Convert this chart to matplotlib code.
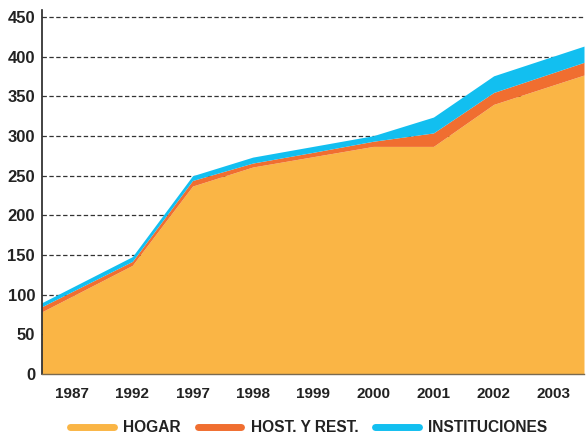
import numpy as np
import matplotlib
matplotlib.use("Agg")
import matplotlib.pyplot as plt
from matplotlib.lines import Line2D

years = ["1987", "1992", "1997", "1998", "1999", "2000", "2001", "2002", "2003"]
hogar = [78.5, 137, 237, 261, 274, 287, 287, 340, 377]
host_rest = [6.5, 5, 7, 5, 5.5, 6.5, 17, 15, 16]
instituciones = [5, 6, 6, 7.5, 7.5, 7, 20, 21, 20.5]
series_names = ["HOGAR", "HOST. Y REST.", "INSTITUCIONES"]
colors = ["#FAB545", "#F06E30", "#12BFF0"]
yticks = [0, 50, 100, 150, 200, 250, 300, 350, 400, 450]

plt.rcParams['font.family'] = ['Liberation Sans', 'DejaVu Sans']

fig = plt.figure(figsize=(5.86, 4.37), dpi=100)
ax = fig.add_axes([42/586, 1-374/437, (584-42)/586, (374-10)/437])

n = len(years)
x = np.arange(n) + 0.5
x[0] = 0
x[-1] = n

h = np.array(hogar)
o = h + np.array(host_rest)
t = o + np.array(instituciones)

ax.fill_between(x, 0, h, color=colors[0], lw=0, zorder=3)
ax.fill_between(x, h, o, color=colors[1], lw=0, zorder=3)
ax.fill_between(x, o, t, color=colors[2], lw=0, zorder=3)

ax.set_xlim(0, n)
ax.set_ylim(0, 459)
for yv in yticks[1:]:
    ax.axhline(yv, color="#333333", lw=0.9, ls=(0, (3.5, 2)), zorder=1)

ax.set_yticks(yticks)
ax.set_yticklabels([str(v) for v in yticks], fontsize=12, fontweight='bold', color="#222222")
ax.set_xticks(np.arange(n) + 0.5)
ax.set_xticklabels(years, fontsize=11, fontweight='bold', color="#222222")
ax.tick_params(axis='both', length=0)
ax.tick_params(axis='y', pad=5)
ax.tick_params(axis='x', pad=9)

for s in ["top", "right"]:
    ax.spines[s].set_visible(False)
ax.spines["left"].set_color("#222222")
ax.spines["left"].set_linewidth(1.2)
ax.spines["left"].set_zorder(5)
ax.spines["bottom"].set_color("#7a6a50")
ax.spines["bottom"].set_linewidth(1.0)
ax.spines["bottom"].set_zorder(5)

handles = [Line2D([0], [0], color=c, lw=5, solid_capstyle='round') for c in colors]
leg = fig.legend(handles, series_names, loc='center', bbox_to_anchor=(0.527, 1-428/437),
                 ncol=3, frameon=False, handlelength=2.8, handletextpad=0.6,
                 columnspacing=1.1, prop={'weight': 'bold', 'size': 11.2})
for txt in leg.get_texts():
    txt.set_color("#222222")

fig.savefig("out.png", dpi=100)
